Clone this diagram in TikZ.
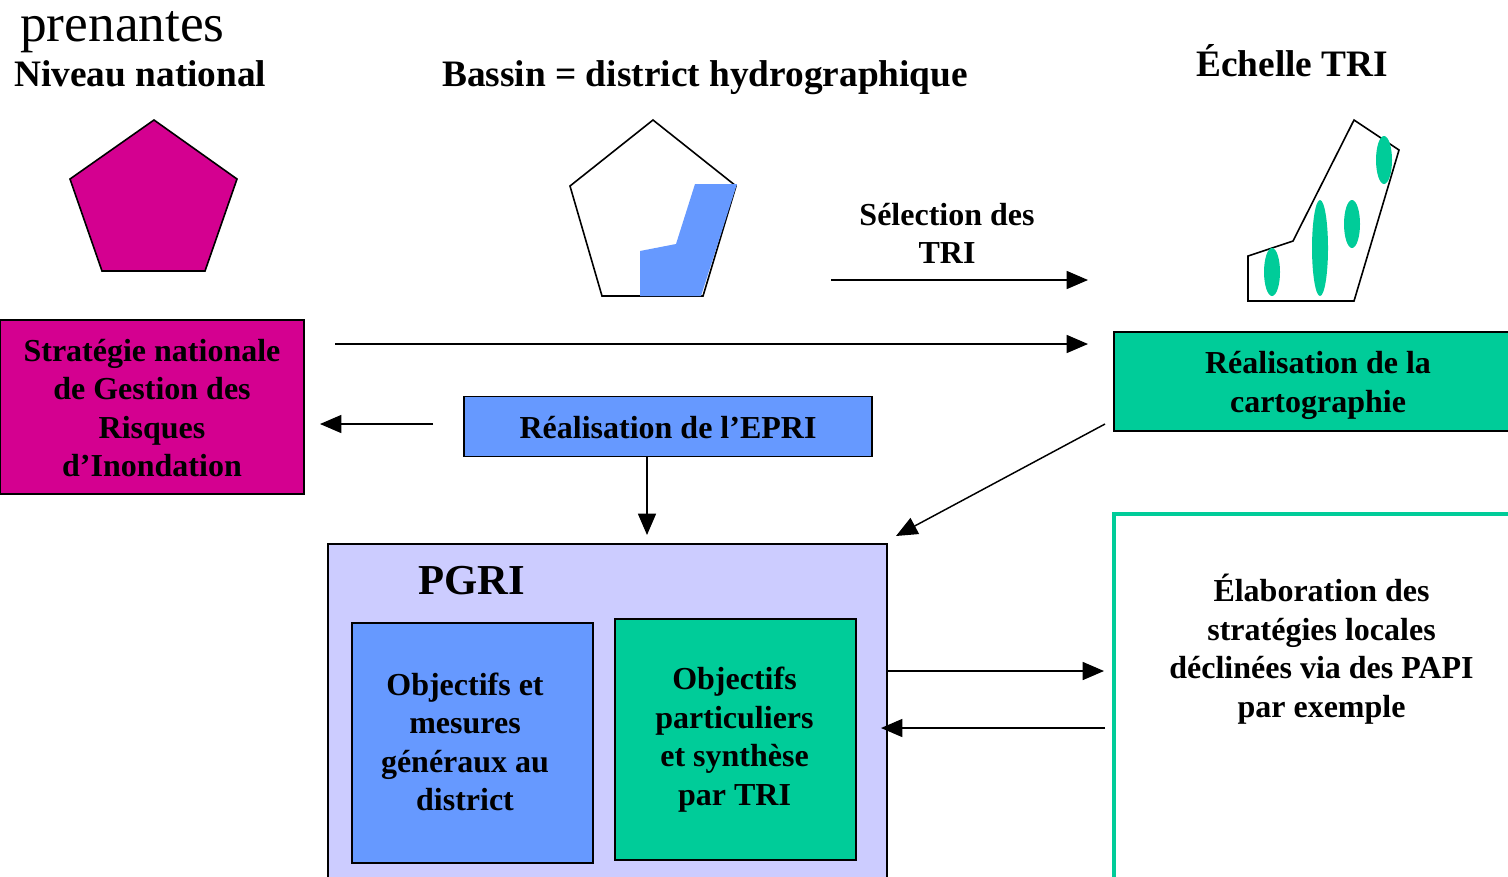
\documentclass[tikz,border=0pt]{standalone}
\usepackage{fontspec}
\setmainfont{Liberation Serif}
\usetikzlibrary{arrows.meta,shapes.geometric}
\definecolor{mag}{HTML}{D40090}
\definecolor{blu}{HTML}{6699FF}
\definecolor{grn}{HTML}{00CC99}
\definecolor{lav}{HTML}{CCCCFF}
\newcommand{\bt}{\fontsize{24}{28.9}\selectfont\bfseries}
\tikzset{
 x=0.75pt,y=-0.75pt,
 panel/.style={draw=black,line width=1.4pt,inner sep=0pt,outer sep=0pt},
 lbl/.style={inner sep=0pt,align=center,font=\bt},
 head/.style={inner sep=0pt,anchor=base west,font=\fontsize{28}{30}\selectfont\bfseries},
 arr/.style={draw=black,line width=1.1pt,-{Triangle[length=16pt,width=13.5pt]}},
 outl/.style={draw=black,line width=1.2pt,line join=miter},
 spot/.style={ellipse,fill=grn,inner sep=0pt,outer sep=0pt}
}
\begin{document}
\begin{tikzpicture}
\useasboundingbox (0,0) rectangle (1508,876);
\node[inner sep=0pt,anchor=base west,font=\fontsize{40}{44}\selectfont] (t0) at (20,41) {prenantes};
\node[head] (t1) at (14,86) {Niveau national};
\node[head] (t2) at (442,86) {Bassin = district hydrographique};
\node[head] (t3) at (1196,76) {Échelle TRI};
% pentagons
\path[fill=mag,outl] (154,120)--(237,179)--(205,271)--(102,271)--(70,179)--cycle;
\path[outl] (653,120)--(736,186)--(703,296)--(602,296)--(570,186)--cycle;
\fill[blu] (695,184)--(737,184)--(701,296)--(640,296)--(640,251)--(676,244)--cycle;
% TRI shape
\path[outl] (1354,120)--(1399,150)--(1354,301)--(1248,301)--(1248,256)--(1293,241)--cycle;
\node[spot,minimum width=12pt,minimum height=36pt] (s1) at (1384,160) {};
\node[spot,minimum width=12pt,minimum height=36pt] (s2) at (1352,224) {};
\node[spot,minimum width=12pt,minimum height=72pt] (s3) at (1320,248) {};
\node[spot,minimum width=12pt,minimum height=36pt] (s4) at (1272,272) {};
% boxes
\node[panel,fill=mag,minimum width=228pt,minimum height=131pt] (snat) at (152,407) {};
\node[lbl] (snatt) at (152,408) {Stratégie nationale\\de Gestion des\\Risques\\d’Inondation};
\node[panel,fill=blu,minimum width=306pt,minimum height=45pt] (epri) at (668,426.5) {};
\node[lbl] (eprit) at (668,428) {Réalisation de l’EPRI};
\node[panel,fill=grn,minimum width=300pt,minimum height=74pt,anchor=north west] (carto) at (1114,332) {};
\node[lbl] (cartot) at (1318,385.5) {Réalisation de la\\cartographie};
\node[panel,fill=lav,minimum width=419.5pt,minimum height=300pt,anchor=north west] (pgri) at (328,544) {};
\node[inner sep=0pt,font=\fontsize{32}{34}\selectfont\bfseries] (pgrit) at (471.5,581) {PGRI};
\node[panel,fill=blu,minimum width=181pt,minimum height=180pt,anchor=north west] (obj1) at (352,623) {};
\node[lbl] (obj1t) at (465,742) {Objectifs et\\mesures\\généraux au\\district};
\node[panel,fill=grn,minimum width=181pt,minimum height=181pt,anchor=north west] (obj2) at (615,619) {};
\node[lbl] (obj2t) at (734.5,739.5) {Objectifs\\particuliers\\et synthèse\\par TRI};
\node[draw=grn,line width=3.6pt,fill=white,minimum width=300pt,minimum height=300pt,inner sep=0pt,outer sep=0pt,anchor=north west] (loc) at (1114,514) {};
\node[lbl] (loct) at (1321.5,649) {Élaboration des\\stratégies locales\\déclinées via des PAPI\\par exemple};
\node[lbl] (sel) at (947,233.5) {Sélection des\\TRI};
% connectors
\coordinate (a1) at (831,280); \coordinate (a2) at (1088,280);
\draw[arr] (a1)--(a2);
\coordinate (b1) at (335,344); \coordinate (b2) at (1088,344);
\draw[arr] (b1)--(b2);
\coordinate (c1) at (433,424); \coordinate (c2) at (320,424);
\draw[arr] (c1)--(c2);
\coordinate (d2) at (647,535);
\draw[arr] (epri.south -| d2)--(d2);
\coordinate (e1) at (1105,424); \coordinate (e2) at (896,536);
\draw[arr] (e1)--(e2);
\coordinate (f1) at (888,671); \coordinate (f2) at (1104,671);
\draw[arr] (f1)--(f2);
\coordinate (g1) at (1105,728); \coordinate (g2) at (881,728);
\draw[arr] (g1)--(g2);
\end{tikzpicture}
\end{document}
